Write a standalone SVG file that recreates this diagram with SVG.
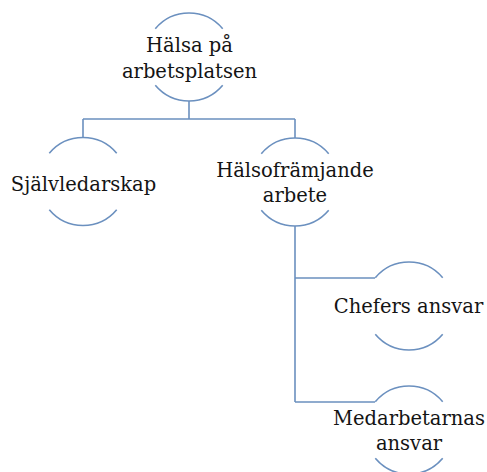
<svg xmlns="http://www.w3.org/2000/svg" width="487" height="472" viewBox="0 0 487 472">
<style>
.arc{fill:none;stroke:#6b90bf;stroke-width:1.6}
.con{fill:none;stroke:#6b90bf;stroke-width:1.6}
.t{font-family:"DejaVu Serif","Liberation Serif",serif;font-size:19.5px;fill:#141414;text-anchor:middle}
</style>
<rect width="487" height="472" fill="#ffffff"/>
<g id="connectors">
<path class="con" d="M189 101 V119 M83 119 H295 M83 119 V137.5 M295 119 V138"/>
<path class="con" d="M295 226 V402 M295 278 H375 M295 402 H375"/>
</g>
<g id="node-halsa">
<path class="arc" d="M155.3 28.7 A44 44 0 0 1 222.7 28.7"/>
<path class="arc" d="M155.3 85.3 A44 44 0 0 0 222.7 85.3"/>
<text class="t" x="189.5" y="52">Hälsa på</text>
<text class="t" x="189.5" y="78">arbetsplatsen</text>
</g>
<g id="node-sjalvledarskap">
<path class="arc" d="M49.3 153.2 A44 44 0 0 1 116.7 153.2"/>
<path class="arc" d="M49.3 209.8 A44 44 0 0 0 116.7 209.8"/>
<text class="t" x="83.5" y="191">Självledarskap</text>
</g>
<g id="node-halsoframjande">
<path class="arc" d="M261.3 153.7 A44 44 0 0 1 328.7 153.7"/>
<path class="arc" d="M261.3 210.3 A44 44 0 0 0 328.7 210.3"/>
<text class="t" x="295" y="177">Hälsofrämjande</text>
<text class="t" x="295" y="202">arbete</text>
</g>
<g id="node-chefers">
<path class="arc" d="M375.3 277.7 A44 44 0 0 1 442.7 277.7"/>
<path class="arc" d="M375.3 334.3 A44 44 0 0 0 442.7 334.3"/>
<text class="t" x="408.5" y="313">Chefers ansvar</text>
</g>
<g id="node-medarbetarnas">
<path class="arc" d="M375.3 401.7 A44 44 0 0 1 442.7 401.7"/>
<path class="arc" d="M375.3 458.3 A44 44 0 0 0 442.7 458.3"/>
<text class="t" x="409" y="425">Medarbetarnas</text>
<text class="t" x="409" y="450">ansvar</text>
</g>
</svg>
